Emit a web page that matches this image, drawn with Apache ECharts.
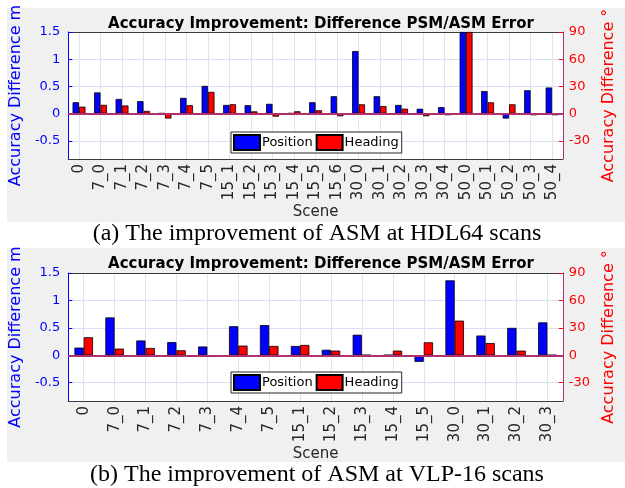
<!DOCTYPE html>
<html>
<head>
<meta charset="utf-8">
<script src="https://cdn.jsdelivr.net/npm/echarts@6/dist/echarts.min.js"></script>
<style>
  html, body { margin: 0; padding: 0; background: #fff; }
  #chart { width: 625px; height: 488px; }
</style>
</head>
<body>
<div id="chart"></div>
<script>
// (a) HDL64 scans
var scenesA = ['0', '7_0', '7_1', '7_2', '7_3', '7_4', '7_5', '15_1', '15_2', '15_3', '15_4', '15_5', '15_6',
  '30_0', '30_1', '30_2', '30_3', '30_4', '50_0', '50_1', '50_2', '50_3', '50_4'];
var positionA = [0.21, 0.39, 0.27, 0.23, 0.01, 0.29, 0.51, 0.16, 0.155, 0.18, 0.01, 0.21, 0.32,
  1.15, 0.32, 0.16, 0.09, 0.12, 1.5, 0.415, -0.09, 0.43, 0.48];
var headingA = [7.7, 9.7, 9, 3, -5.4, 9.3, 24, 10.4, 2.5, -3.3, 2.6, 3.7, -2.9,
  10.3, 8.4, 5.5, -2.9, -1.8, 90, 12.5, 10.3, -1.8, -1.8];

// (b) VLP-16 scans
var scenesB = ['0', '7_0', '7_1', '7_2', '7_3', '7_4', '7_5', '15_1', '15_2', '15_3', '15_4', '15_5',
  '30_0', '30_1', '30_2', '30_3'];
var positionB = [0.14, 0.69, 0.27, 0.24, 0.16, 0.53, 0.55, 0.17, 0.10, 0.375, 0.005, -0.12,
  1.366, 0.36, 0.50, 0.60];
var headingB = [19.7, 7.3, 8, 5.5, -1.8, 10.6, 10.2, 11.3, 5.1, 0.3, 5.1, 14.2,
  37.9, 13.4, 5.1, 0.3];

var chartTitle = 'Accuracy Improvement: Difference PSM/ASM Error';
var captions = ['(a) The improvement of ASM at HDL64 scans', '(b) The improvement of ASM at VLP-16 scans'];

var sans = 'DejaVu Sans';
var blue = '#0000ff', red = '#ff0000', magenta = '#b0306e', dark = '#3c3c3c';

var myChart = echarts.init(document.getElementById('chart'));

function xAxes(idx, cats) {
  return [
    {
      type: 'category', gridIndex: idx, data: cats, position: 'bottom',
      axisLine: { onZero: false, lineStyle: { color: dark, width: 1 } },
      axisTick: { inside: true, alignWithLabel: true, length: 4, lineStyle: { color: dark } },
      axisLabel: { rotate: 90, color: '#262626', fontFamily: sans, fontSize: 15, margin: 5, interval: 0 },
      splitLine: { show: false },
      name: 'Scene', nameLocation: 'middle', nameGap: 46,
      nameTextStyle: { color: '#262626', fontFamily: sans, fontSize: 15 }
    },
    {
      type: 'category', gridIndex: idx, data: cats, position: 'top',
      axisLine: { onZero: false, lineStyle: { color: dark, width: 1 } },
      axisTick: { inside: true, alignWithLabel: true, length: 4, lineStyle: { color: dark } },
      axisLabel: { show: false }
    },
    // index scale only used for the vertical grid lines through each category centre
    {
      type: 'value', gridIndex: idx, position: 'bottom', min: -0.5, max: cats.length - 0.5, splitNumber: cats.length,
      axisLine: { show: false, onZero: false }, axisTick: { show: false }, axisLabel: { show: false },
      splitLine: { show: true, lineStyle: { color: '#e4e4e4' } }
    }
  ];
}

function yAxes(idx) {
  return [
    {
      type: 'value', gridIndex: idx, position: 'left', min: -0.8333, max: 1.5, splitNumber: 5,
      axisLine: { show: true, onZero: false, lineStyle: { color: blue, width: 1 } },
      axisTick: { show: true, inside: true, length: 4, lineStyle: { color: blue } },
      axisLabel: { color: blue, fontFamily: sans, fontSize: 13, margin: 8, showMinLabel: false },
      splitLine: { show: true, lineStyle: { color: '#dcdcf6' } },
      name: 'Accuracy Difference m', nameLocation: 'middle', nameGap: 38,
      nameTextStyle: { color: blue, fontFamily: sans, fontSize: 16 }
    },
    {
      type: 'value', gridIndex: idx, position: 'right', min: -50, max: 90, splitNumber: 5,
      axisLine: { show: true, onZero: false, lineStyle: { color: magenta, width: 1 } },
      axisTick: { show: true, inside: true, length: 4, lineStyle: { color: red } },
      axisLabel: { color: red, fontFamily: sans, fontSize: 13, margin: 6, showMinLabel: false },
      splitLine: { show: false },
      name: 'Accuracy Difference °', nameLocation: 'middle', nameGap: 37, nameRotate: 90,
      nameTextStyle: { color: red, fontFamily: sans, fontSize: 16 }
    }
  ];
}

function barSeries(idx, pos, head) {
  return [
    {
      name: 'Position', type: 'bar', xAxisIndex: idx * 3, yAxisIndex: idx * 2, data: pos,
      barGap: '0%', barCategoryGap: '40%',
      itemStyle: { color: blue, borderColor: '#000', borderWidth: 0.8 },
      markLine: {
        silent: true, symbol: 'none', label: { show: false },
        lineStyle: { color: magenta, type: 'solid', width: 2 },
        data: [{ yAxis: 0 }]
      }
    },
    {
      name: 'Heading', type: 'bar', xAxisIndex: idx * 3, yAxisIndex: idx * 2 + 1, data: head,
      barGap: '0%', barCategoryGap: '40%',
      itemStyle: { color: red, borderColor: '#000', borderWidth: 0.8 }
    }
  ];
}

function legendAt(top) {
  return {
    left: 231, top: top, orient: 'horizontal', icon: 'rect',
    data: ['Position', 'Heading'],
    backgroundColor: '#fff', borderColor: '#262626', borderWidth: 1,
    padding: [2, 3, 2, 2], itemGap: 3, itemWidth: 26, itemHeight: 15,
    textStyle: { color: '#000', fontFamily: sans, fontSize: 13, padding: [0, 0, 0, -3] }
  };
}

var titleStyle = { fontFamily: sans, fontWeight: 'bold', fontSize: 15, color: '#000' };
var captionStyle = { fontFamily: 'Liberation Serif', fontWeight: 'normal', fontSize: 24, color: '#000' };

var option = {
  animation: false,
  graphic: [
    { type: 'rect', left: 7, top: 8, z: -10, shape: { width: 618, height: 214 }, style: { fill: '#f0f0f0' } },
    { type: 'rect', left: 7, top: 248, z: -10, shape: { width: 618, height: 214 }, style: { fill: '#f0f0f0' } }
  ],
  title: [
    { text: chartTitle, left: 316, top: 12, textAlign: 'center', textStyle: titleStyle },
    { text: chartTitle, left: 316, top: 252, textAlign: 'center', textStyle: titleStyle },
    { text: captions[0], left: 317, top: 222, textAlign: 'center', padding: 0, textStyle: captionStyle },
    { text: captions[1], left: 317, top: 463, textAlign: 'center', padding: 0, textStyle: captionStyle }
  ],
  legend: [legendAt(132), legendAt(372)],
  grid: [
    { left: 61, right: 54, top: 32, height: 127, show: true, backgroundColor: '#fff', borderWidth: 0 },
    { left: 61, right: 54, top: 273, height: 128, show: true, backgroundColor: '#fff', borderWidth: 0 }
  ],
  xAxis: xAxes(0, scenesA).concat(xAxes(1, scenesB)),
  yAxis: yAxes(0).concat(yAxes(1)),
  series: barSeries(0, positionA, headingA).concat(barSeries(1, positionB, headingB))
};

myChart.setOption(option);
</script>
</body>
</html>
